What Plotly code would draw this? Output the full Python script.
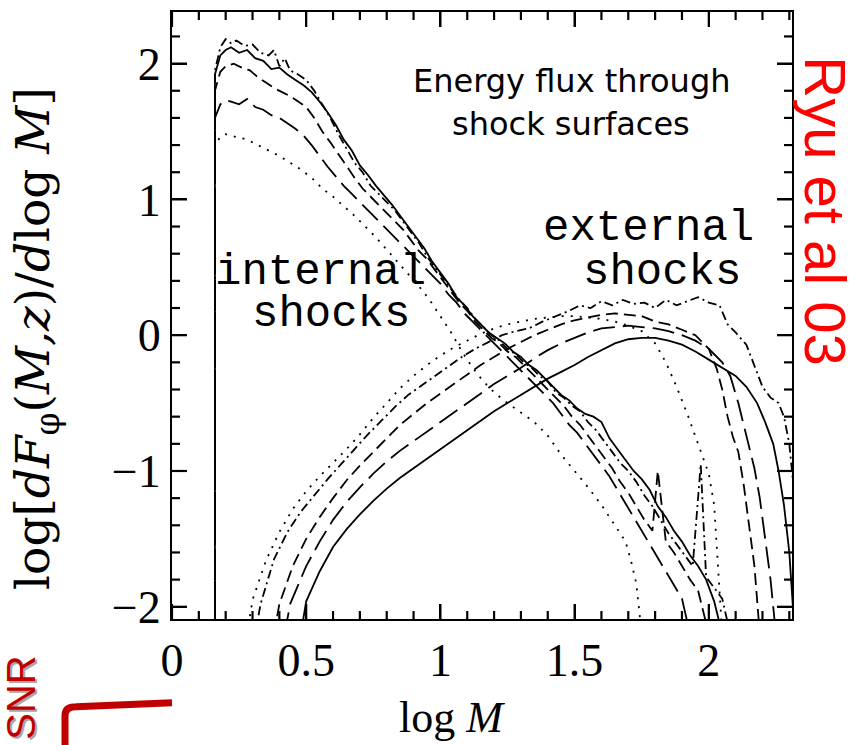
import plotly.graph_objects as go

# ---------------- data ----------------
# internal shocks
int_solid_x = [0.16, 0.16, 0.18, 0.20, 0.22, 0.25, 0.28, 0.31, 0.34, 0.37, 0.40, 0.43, 0.46, 0.49, 0.52, 0.55,
               0.58, 0.61, 0.64, 0.67, 0.70, 0.73, 0.76, 0.79, 0.82, 0.85, 0.88, 0.91, 0.94, 0.97, 1.00, 1.03,
               1.06, 1.09, 1.12, 1.15, 1.18, 1.21, 1.24, 1.27, 1.30, 1.33, 1.36, 1.39, 1.42, 1.45, 1.48, 1.51,
               1.54, 1.57, 1.60, 1.63, 1.66, 1.69, 1.72, 1.75, 1.78, 1.81, 1.84, 1.87, 1.90, 1.93, 1.96, 1.99,
               2.02, 2.05]
int_solid_y = [-2.2, 1.92, 2.06, 2.10, 2.12, 2.08, 2.10, 2.04, 2.02, 1.96, 1.97, 1.92, 1.88, 1.84, 1.79, 1.72,
               1.64, 1.55, 1.44, 1.36, 1.25, 1.18, 1.10, 1.03, 0.96, 0.88, 0.80, 0.72, 0.64, 0.54, 0.46, 0.38,
               0.28, 0.22, 0.14, 0.08, 0.02, -0.02, -0.06, -0.12, -0.16, -0.22, -0.26, -0.32, -0.38, -0.44, -0.48,
               -0.54, -0.58, -0.60, -0.64, -0.76, -0.84, -0.92, -1.00, -1.06, -1.14, -1.26, -1.34, -1.44, -1.52,
               -1.62, -1.70, -1.80, -1.96, -2.2]

int_dashdot_x = [0.16, 0.16, 0.18, 0.20, 0.22, 0.24, 0.27, 0.30, 0.33, 0.36, 0.38, 0.40, 0.42, 0.44, 0.47, 0.50,
                 0.53, 0.56, 0.59, 0.62, 0.65, 0.68, 0.71, 0.74, 0.77, 0.80, 0.83, 0.86, 0.89, 0.92, 0.95, 0.98,
                 1.01, 1.04, 1.07, 1.10, 1.13, 1.16, 1.19, 1.22, 1.25, 1.28, 1.31, 1.34, 1.37, 1.40, 1.43, 1.46,
                 1.49, 1.52, 1.55, 1.58, 1.61, 1.64, 1.67, 1.70, 1.73, 1.76, 1.79, 1.82, 1.85, 1.88, 1.91, 1.94,
                 1.97, 1.99, 2.02, 2.05, 2.08]
int_dashdot_y = [-2.2, 1.95, 2.12, 2.18, 2.15, 2.17, 2.13, 2.14, 2.08, 2.06, 2.10, 1.98, 2.04, 1.95, 1.92, 1.88,
                 1.80, 1.70, 1.60, 1.48, 1.37, 1.27, 1.20, 1.10, 1.04, 0.98, 0.92, 0.84, 0.76, 0.68, 0.58, 0.50,
                 0.42, 0.34, 0.26, 0.20, 0.12, 0.06, 0.00, -0.04, -0.10, -0.14, -0.20, -0.24, -0.30, -0.34, -0.42,
                 -0.46, -0.52, -0.56, -0.64, -0.70, -0.78, -0.86, -0.94, -1.00, -1.08, -1.18, -1.26, -1.36, -1.46,
                 -1.54, -1.62, -1.70, -0.95, -1.78, -1.86, -1.94, -2.2]

int_dash_x = [0.16, 0.16, 0.18, 0.20, 0.23, 0.26, 0.29, 0.32, 0.35, 0.38, 0.41, 0.44, 0.47, 0.50, 0.53, 0.56,
              0.59, 0.62, 0.65, 0.68, 0.71, 0.74, 0.77, 0.80, 0.83, 0.86, 0.89, 0.92, 0.95, 0.98, 1.01, 1.04,
              1.07, 1.10, 1.13, 1.16, 1.19, 1.22, 1.25, 1.28, 1.31, 1.34, 1.37, 1.40, 1.43, 1.46, 1.49, 1.52,
              1.55, 1.58, 1.61, 1.64, 1.67, 1.70, 1.73, 1.76, 1.79, 1.81, 1.84, 1.87, 1.90, 1.93, 1.96, 2.00]
int_dash_y = [-2.2, 1.80, 1.94, 1.98, 2.00, 1.97, 1.95, 1.90, 1.86, 1.82, 1.79, 1.76, 1.72, 1.68, 1.60, 1.50,
              1.42, 1.33, 1.24, 1.16, 1.08, 1.02, 0.96, 0.90, 0.84, 0.78, 0.70, 0.62, 0.56, 0.48, 0.40, 0.32,
              0.24, 0.18, 0.10, 0.04, -0.02, -0.06, -0.12, -0.16, -0.22, -0.28, -0.34, -0.40, -0.46, -0.52,
              -0.60, -0.66, -0.74, -0.82, -0.90, -0.98, -1.08, -1.16, -1.26, -1.36, -1.44, -1.00, -1.52, -1.60,
              -1.70, -1.80, -1.88, -2.2]

int_longdash_x = [0.16, 0.16, 0.18, 0.20, 0.22, 0.25, 0.28, 0.31, 0.34, 0.37, 0.40, 0.43, 0.46, 0.49, 0.52, 0.55,
                  0.58, 0.61, 0.64, 0.67, 0.70, 0.73, 0.76, 0.79, 0.82, 0.85, 0.88, 0.91, 0.94, 0.97, 1.00, 1.03,
                  1.06, 1.09, 1.12, 1.15, 1.18, 1.21, 1.24, 1.27, 1.30, 1.33, 1.36, 1.39, 1.42, 1.45, 1.48, 1.51,
                  1.54, 1.57, 1.60, 1.63, 1.66, 1.69, 1.72, 1.75, 1.78, 1.81, 1.84, 1.87, 1.90, 1.93]
int_longdash_y = [-2.2, 1.60, 1.70, 1.73, 1.72, 1.70, 1.74, 1.68, 1.66, 1.62, 1.60, 1.56, 1.52, 1.47, 1.40, 1.32,
                  1.24, 1.17, 1.10, 1.04, 0.98, 0.92, 0.86, 0.80, 0.74, 0.68, 0.62, 0.56, 0.50, 0.44, 0.38, 0.30,
                  0.24, 0.16, 0.10, 0.04, -0.02, -0.08, -0.14, -0.20, -0.26, -0.32, -0.38, -0.44, -0.50, -0.58,
                  -0.66, -0.72, -0.80, -0.88, -0.96, -1.04, -1.14, -1.24, -1.34, -1.44, -1.54, -1.64, -1.74, -1.84,
                  -1.94, -2.2]

int_dot_x = [0.16, 0.16, 0.18, 0.20, 0.24, 0.28, 0.32, 0.36, 0.40, 0.44, 0.48, 0.52, 0.56, 0.60, 0.64, 0.68,
             0.72, 0.76, 0.80, 0.84, 0.88, 0.92, 0.96, 1.00, 1.04, 1.08, 1.12, 1.16, 1.20, 1.25, 1.30, 1.35,
             1.40, 1.45, 1.50, 1.55, 1.60, 1.65, 1.69, 1.71, 1.73, 1.75]
int_dot_y = [-2.2, 1.40, 1.46, 1.48, 1.46, 1.44, 1.40, 1.36, 1.32, 1.27, 1.22, 1.16, 1.08, 1.02, 0.95, 0.88,
             0.80, 0.72, 0.63, 0.54, 0.45, 0.36, 0.26, 0.14, 0.02, -0.12, -0.24, -0.34, -0.42, -0.50, -0.57,
             -0.64, -0.74, -0.88, -1.00, -1.12, -1.25, -1.40, -1.52, -1.66, -1.83, -2.2]

# external shocks
ext_solid_x = [0.48, 0.50, 0.55, 0.60, 0.65, 0.70, 0.75, 0.80, 0.85, 0.90, 0.95, 1.00, 1.05, 1.10, 1.15, 1.20,
               1.25, 1.30, 1.35, 1.40, 1.45, 1.50, 1.55, 1.60, 1.65, 1.70, 1.75, 1.80, 1.85, 1.90, 1.95, 2.00,
               2.05, 2.10, 2.14, 2.18, 2.21, 2.24, 2.26, 2.28, 2.30, 2.32]
ext_solid_y = [-2.2, -1.96, -1.74, -1.56, -1.43, -1.32, -1.22, -1.13, -1.05, -0.98, -0.91, -0.84, -0.77, -0.70,
               -0.63, -0.56, -0.50, -0.44, -0.38, -0.32, -0.27, -0.22, -0.16, -0.11, -0.06, -0.03, -0.02, -0.02,
               -0.04, -0.07, -0.12, -0.18, -0.24, -0.30, -0.38, -0.50, -0.64, -0.80, -1.00, -1.25, -1.60, -2.2]

ext_longdash_x = [0.42, 0.44, 0.50, 0.55, 0.60, 0.65, 0.70, 0.75, 0.80, 0.85, 0.90, 0.95, 1.00, 1.05, 1.10, 1.15,
                  1.20, 1.25, 1.30, 1.35, 1.40, 1.45, 1.50, 1.55, 1.60, 1.65, 1.70, 1.75, 1.80, 1.85, 1.90, 1.95,
                  2.00, 2.05, 2.08, 2.11, 2.14, 2.17, 2.19, 2.21, 2.23, 2.25]
ext_longdash_y = [-2.2, -1.98, -1.70, -1.52, -1.36, -1.23, -1.12, -1.02, -0.93, -0.85, -0.78, -0.71, -0.64, -0.57,
                  -0.50, -0.43, -0.36, -0.30, -0.24, -0.17, -0.11, -0.06, -0.02, 0.02, 0.05, 0.06, 0.07, 0.06,
                  0.05, 0.03, 0.00, -0.04, -0.10, -0.20, -0.30, -0.50, -0.75, -0.98, -1.20, -1.50, -1.80, -2.2]

ext_dash_x = [0.38, 0.40, 0.45, 0.50, 0.55, 0.60, 0.65, 0.70, 0.75, 0.80, 0.85, 0.90, 0.95, 1.00, 1.05, 1.10,
              1.15, 1.20, 1.25, 1.30, 1.35, 1.40, 1.45, 1.50, 1.55, 1.60, 1.65, 1.70, 1.75, 1.80, 1.85, 1.90,
              1.95, 2.00, 2.03, 2.05, 2.07, 2.09, 2.11, 2.13, 2.15, 2.17, 2.19]
ext_dash_y = [-2.2, -1.98, -1.70, -1.50, -1.34, -1.20, -1.07, -0.96, -0.86, -0.76, -0.66, -0.58, -0.50, -0.43,
              -0.36, -0.29, -0.22, -0.16, -0.10, -0.05, 0.00, 0.04, 0.08, 0.11, 0.13, 0.15, 0.16, 0.15, 0.14,
              0.10, 0.08, 0.04, 0.00, -0.10, -0.25, -0.40, -0.60, -0.75, -0.86, -1.10, -1.40, -1.70, -2.2]

ext_dashdot_x = [0.31, 0.33, 0.38, 0.43, 0.48, 0.53, 0.58, 0.63, 0.68, 0.73, 0.78, 0.83, 0.88, 0.93, 0.98, 1.03,
                 1.08, 1.13, 1.18, 1.23, 1.28, 1.33, 1.38, 1.43, 1.48, 1.52, 1.56, 1.60, 1.64, 1.68, 1.72, 1.76,
                 1.80, 1.84, 1.88, 1.92, 1.96, 2.00, 2.04, 2.07, 2.10, 2.14, 2.17, 2.20, 2.23, 2.26, 2.28, 2.30,
                 2.32, 2.34]
ext_dashdot_y = [-2.2, -1.98, -1.65, -1.45, -1.30, -1.18, -1.06, -0.95, -0.84, -0.73, -0.63, -0.53, -0.44, -0.37,
                 -0.30, -0.23, -0.16, -0.10, -0.05, 0.00, 0.03, 0.05, 0.10, 0.14, 0.18, 0.22, 0.20, 0.25, 0.22,
                 0.26, 0.23, 0.24, 0.20, 0.26, 0.22, 0.25, 0.28, 0.24, 0.22, 0.08, 0.02, -0.07, -0.22, -0.38,
                 -0.46, -0.50, -0.60, -0.80, -1.20, -2.2]

ext_dot_x = [0.28, 0.30, 0.35, 0.40, 0.45, 0.50, 0.55, 0.60, 0.65, 0.70, 0.75, 0.80, 0.85, 0.90, 0.95, 1.00,
             1.05, 1.10, 1.15, 1.20, 1.25, 1.30, 1.35, 1.40, 1.45, 1.50, 1.55, 1.60, 1.65, 1.70, 1.75, 1.80,
             1.84, 1.88, 1.92, 1.96, 2.00, 2.02, 2.03, 2.04, 2.05]
ext_dot_y = [-2.2, -1.95, -1.66, -1.45, -1.28, -1.15, -1.04, -0.94, -0.84, -0.73, -0.61, -0.50, -0.39, -0.30,
             -0.22, -0.15, -0.09, -0.04, 0.01, 0.05, 0.08, 0.10, 0.12, 0.13, 0.14, 0.14, 0.13, 0.12, 0.10, 0.07,
             0.03, -0.06, -0.20, -0.38, -0.58, -0.80, -1.02, -1.25, -1.55, -1.85, -2.2]

x_tick_vals = [0, 0.5, 1, 1.5, 2]
x_tick_text = ["0", "0.5", "1", "1.5", "2"]
y_tick_vals = [-2, -1, 0, 1, 2]
y_tick_text = ["\u22122", "\u22121", "0", "1", "2"]
x_minor_vals = [round(0.1 * i, 1) for i in range(1, 24) if i % 5 != 0]
y_minor_vals = [round(-2.0 + 0.2 * i, 1) for i in range(1, 23) if i % 5 != 0]

# ---------------- figure ----------------
DOT = "2px,7px"
DASH = "12px,6px"
LONGDASH = "22px,8px"
DASHDOT = "9px,4px,2px,4px"

series = [
    (int_solid_x, int_solid_y, "solid"),
    (int_dashdot_x, int_dashdot_y, DASHDOT),
    (int_dash_x, int_dash_y, DASH),
    (int_longdash_x, int_longdash_y, LONGDASH),
    (int_dot_x, int_dot_y, DOT),
    (ext_solid_x, ext_solid_y, "solid"),
    (ext_longdash_x, ext_longdash_y, LONGDASH),
    (ext_dash_x, ext_dash_y, DASH),
    (ext_dashdot_x, ext_dashdot_y, DASHDOT),
    (ext_dot_x, ext_dot_y, DOT),
]

SERIF = "Liberation Serif"
XR = [0, 2.31]
YR = [-2.09, 2.38]
W, H = 858, 745
L, R, T, B = 172, 66, 10, 126
pw, ph = W - L - R, H - T - B

fig = go.Figure()
for xs, ys, dash in series:
    fig.add_trace(go.Scatter(x=xs, y=ys, mode="lines",
                             line=dict(color="black", width=1.8, dash=dash),
                             showlegend=False, hoverinfo="skip"))

# inside tick marks on all four sides (major 15 px, minor 8 px), drawn in axis units
MAJ, MIN = 15, 8
dy_per_px = (YR[1] - YR[0]) / ph
dx_per_px = (XR[1] - XR[0]) / pw
tx, ty = [], []
for vals, ln in ((x_tick_vals, MAJ), (x_minor_vals, MIN)):
    for v in vals:
        tx += [v, v, None, v, v, None]
        ty += [YR[0], YR[0] + ln * dy_per_px, None, YR[1], YR[1] - ln * dy_per_px, None]
for vals, ln in ((y_tick_vals, MAJ), (y_minor_vals, MIN)):
    for v in vals:
        tx += [XR[0], XR[0] + ln * dx_per_px, None, XR[1], XR[1] - ln * dx_per_px, None]
        ty += [v, v, None, v, v, None]
fig.add_trace(go.Scatter(x=tx, y=ty, mode="lines", line=dict(color="black", width=2.2),
                         connectgaps=False, showlegend=False, hoverinfo="skip"))

fig.update_layout(
    xaxis=dict(range=XR, tickmode="array", tickvals=x_tick_vals, ticktext=x_tick_text,
               ticks="inside", ticklen=MAJ, tickwidth=2, tickcolor="black",
               showline=True, linecolor="black", linewidth=2, mirror="ticks",
               showgrid=False, zeroline=False,
               tickfont=dict(family=SERIF, size=46, color="black")),
    yaxis=dict(range=YR, tickmode="array", tickvals=y_tick_vals, ticktext=y_tick_text,
               ticks="inside", ticklen=MAJ, tickwidth=2, tickcolor="black",
               showline=True, linecolor="black", linewidth=2, mirror="ticks",
               showgrid=False, zeroline=False,
               tickfont=dict(family=SERIF, size=46, color="black")),
)


def px(xp):
    return (xp - L) / pw


def py(yp):
    return (H - B - yp) / ph


MONO = dict(family="Liberation Mono", size=44, color="black")
anns = [
    dict(text="log <i>M</i>", x=px(452), y=py(718), font=dict(family=SERIF, size=44, color="black")),
    dict(text="log[<i>dF</i><sub>φ</sub>(<i>M,z</i>)/<i>d</i>log <i>M</i>]", x=px(36), y=py(338),
         textangle=-90, font=dict(family="DejaVu Serif", size=47, color="black")),
    dict(text="Energy flux through", x=px(571), y=py(79),
         font=dict(family="DejaVu Sans", size=32, color="black")),
    dict(text="shock surfaces", x=px(571), y=py(122),
         font=dict(family="DejaVu Sans", size=32, color="black")),
    dict(text="internal", x=px(320), y=py(271), font=MONO),
    dict(text="shocks", x=px(331), y=py(313), font=MONO),
    dict(text="external", x=px(648), y=py(227), font=MONO),
    dict(text="shocks", x=px(662), y=py(271), font=MONO),
    dict(text="Ryu et al 03", x=px(826), y=py(210), textangle=90,
         font=dict(family="Liberation Sans", size=58, color="#ff0000")),
    dict(text="SNR", x=px(21), y=py(698), textangle=-90, xshift=2, yshift=-2,
         font=dict(family="Liberation Sans", size=40, color="#a8a8a8")),
    dict(text="SNR", x=px(21), y=py(698), textangle=-90,
         font=dict(family="Liberation Sans", size=40, color="#c00000")),
]
for a in anns:
    fig.add_annotation(xref="paper", yref="paper", showarrow=False, xanchor="center", yanchor="middle", **a)

fig.add_shape(type="path", xref="paper", yref="paper",
              path=f"M {px(65)},{py(760)} L {px(65)},{py(716)} Q {px(65)},{py(707)} {px(76)},{py(707)} L {px(172)},{py(703)}",
              line=dict(color="#c00000", width=7))

fig.update_layout(width=W, height=H, margin=dict(l=L, r=R, t=T, b=B),
                  paper_bgcolor="white", plot_bgcolor="white", showlegend=False)

fig.write_html("out.html")
